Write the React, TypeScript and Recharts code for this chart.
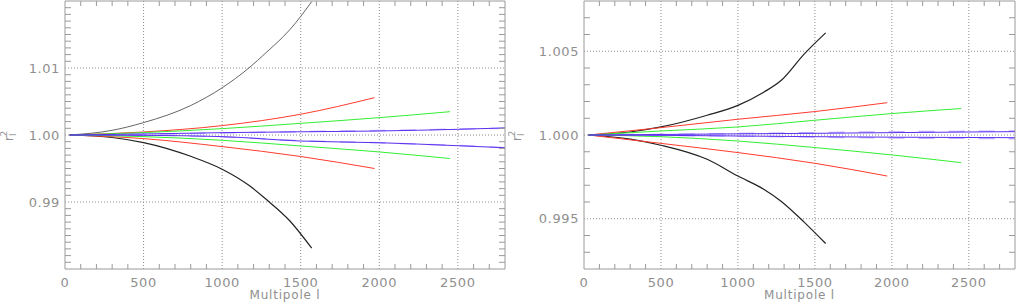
import React from 'react';
import { LineChart, Line, XAxis, YAxis, ReferenceLine } from 'recharts';

// multipole grids for each family of curves
const lBlack = [30, 300, 500, 800, 1000, 1170, 1280, 1430, 1570];
const lRed = [30, 500, 1000, 1500, 1970];
const lGreen = [30, 500, 1000, 1500, 2000, 2450];
const lBlue = [30, 500, 1000, 1500, 2000, 2500, 2800];

// left panel values
const leftBlackUp = [1.0, 1.0007, 1.00185, 1.0044, 1.00705, 1.01, 1.0123, 1.0157, 1.0199];
const leftBlackDown = [1.0, 0.99963, 0.99887, 0.99682, 0.9949, 0.9925, 0.9904, 0.9872, 0.9831];
const leftRedUp = [1.0, 1.00045, 1.0014, 1.0031, 1.00557];
const leftRedDown = [1.0, 0.99946, 0.99827, 0.99679, 0.995];
const leftGreenUp = [1.0, 1.00036, 1.00095, 1.00174, 1.00259, 1.00348];
const leftGreenDown = [1.0, 0.99976, 0.99921, 0.99836, 0.99747, 0.99649];
const leftBlueUp = [1.0, 1.00015, 1.00035, 1.00048, 1.0006, 1.00085, 1.00105];
const leftBlueDown = [1.0, 0.99995, 0.99976, 0.9991, 0.99885, 0.9984, 0.9981];
const leftLilacUp = [1.0, 1.00012, 1.0003, 1.0005, 1.00066, 1.00088, 1.00102];
const leftLilacDown = [1.0, 0.99997, 0.99972, 0.99915, 0.99883, 0.99843, 0.99808];

// right panel values
const rightBlackUp = [1.0, 1.00018, 1.00048, 1.00118, 1.00177, 1.00257, 1.00325, 1.00483, 1.0061];
const rightBlackDown = [1.0, 0.99975, 0.99939, 0.99855, 0.99755, 0.99675, 0.99605, 0.9948, 0.99352];
const rightRedUp = [1.0, 1.00044, 1.00094, 1.0014, 1.00193];
const rightRedDown = [1.0, 0.9995, 0.99895, 0.99831, 0.99755];
const rightGreenUp = [1.0, 1.00024, 1.00048, 1.00088, 1.00128, 1.00158];
const rightGreenDown = [1.0, 0.9999, 0.99964, 0.99925, 0.99881, 0.99835];
const rightBlueUp = [1.0, 1.00003, 1.00007, 1.0001, 1.00014, 1.00018, 1.0002];
const rightBlueDown = [1.0, 0.99998, 0.99994, 0.9999, 0.99987, 0.99985, 0.99984];
const rightLilacUp = [1.0, 1.00004, 1.00009, 1.00014, 1.00019, 1.00022, 1.00024];
const rightLilacDown = [1.0, 0.99998, 0.99993, 0.99988, 0.99982, 0.9998, 0.99978];

// ticks
const xLabelValues = [0, 500, 1000, 1500, 2000, 2500];
const xLabels = ['0', '500', '1000', '1500', '2000', '2500'];
const leftYMajor = [0.99, 1.0, 1.01];
const leftYLabels = ['0.99', '1.00', '1.01'];
const rightYMajor = [0.995, 1.0, 1.005];
const rightYLabels = ['0.995', '1.000', '1.005'];

const AXIS = '#9a9a9a';
const TEXT = '#8f8f8f';
const GRID = '#8c8c8c';
const FONT = "'DejaVu Sans', sans-serif";

const allX = Array.from({ length: 28 }, (_, i) => i * 100);
const stepTicks = (lo: number, hi: number) =>
  Array.from({ length: Math.round((hi - lo) / 0.001) + 1 }, (_, i) => +(lo + i * 0.001).toFixed(4));

const near = (a: number, b: number) => Math.abs(a - b) < 1e-7;
const pts = (ls: number[], vs: number[]) => ls.map((l, i) => ({ l, v: vs[i] }));

interface Series { data: { l: number; v: number }[]; color: string; width: number; dash?: string }

interface PanelProps {
  left: number;
  margin: { top: number; right: number; bottom: number; left: number };
  yDomain: [number, number];
  yMajor: number[];
  yLabels: string[];
  series: Series[];
  rLabelX: number;
}

const Panel = ({ left, margin, yDomain, yMajor, yLabels, series, rLabelX }: PanelProps) => {
  const W = 508;
  const H = 308;
  const yTicks = stepTicks(yDomain[0], yDomain[1]);
  // axes take 1px each, so the plot box is the margin plus one
  const plotMid = margin.left + 1 + (W - margin.left - margin.right - 2) / 2;

  const BottomTick = (p: any) => {
    const idx = xLabelValues.findIndex(t => near(t, p.payload.value));
    return (
      <g>
        {idx < 0 && <line x1={p.x} x2={p.x} y1={p.y} y2={p.y - 5} stroke={AXIS} />}
        {idx >= 0 && (
          <text x={p.x} y={p.y + 17.5} textAnchor="middle" fill={TEXT} fontSize={13} fontFamily={FONT} letterSpacing={0.6}>
            {xLabels[idx]}
          </text>
        )}
      </g>
    );
  };
  const TopTick = (p: any) => {
    const idx = xLabelValues.findIndex(t => near(t, p.payload.value));
    return idx < 0 ? <line x1={p.x} x2={p.x} y1={p.y} y2={p.y + 5} stroke={AXIS} /> : <g />;
  };
  const LeftTick = (p: any) => {
    const idx = yMajor.findIndex(t => near(t, p.payload.value));
    const edge = near(p.payload.value, yDomain[0]) || near(p.payload.value, yDomain[1]);
    return (
      <g>
        {idx < 0 && !edge && <line x1={p.x} x2={p.x + 6} y1={p.y} y2={p.y} stroke={AXIS} />}
        {idx >= 0 && (
          <text x={p.x - 5} y={p.y + 4.5} textAnchor="end" fill={TEXT} fontSize={13} fontFamily={FONT} letterSpacing={0.6}>
            {yLabels[idx]}
          </text>
        )}
      </g>
    );
  };
  const RightTick = (p: any) => {
    const idx = yMajor.findIndex(t => near(t, p.payload.value));
    const edge = near(p.payload.value, yDomain[0]) || near(p.payload.value, yDomain[1]);
    return idx < 0 && !edge ? <line x1={p.x} x2={p.x - 6} y1={p.y} y2={p.y} stroke={AXIS} /> : <g />;
  };

  return (
    <div style={{ position: 'absolute', left, top: 0, width: W, height: H }}>
      <LineChart width={W} height={H} margin={margin}>
        <XAxis xAxisId="b" dataKey="l" type="number" domain={[0, 2800]} ticks={allX} interval={0}
          height={1} tickSize={0} tickMargin={0} tick={BottomTick} stroke={AXIS} allowDataOverflow />
        <XAxis xAxisId="t" orientation="top" dataKey="l" type="number" domain={[0, 2800]} ticks={allX} interval={0}
          height={1} tickSize={0} tickMargin={0} tick={TopTick} stroke={AXIS} allowDataOverflow />
        <YAxis yAxisId="l" type="number" domain={yDomain} ticks={yTicks} interval={0}
          width={1} tickSize={0} tickMargin={0} tick={LeftTick} stroke={AXIS} allowDataOverflow />
        <YAxis yAxisId="r" orientation="right" type="number" domain={yDomain} ticks={yTicks} interval={0}
          width={1} tickSize={0} tickMargin={0} tick={RightTick} stroke={AXIS} allowDataOverflow />
        {xLabelValues.slice(1).map(v => (
          <ReferenceLine key={'gx' + v} x={v} xAxisId="b" yAxisId="l" stroke={GRID} strokeDasharray="1 2" />
        ))}
        {yMajor.map(v => (
          <ReferenceLine key={'gy' + v} y={v} xAxisId="b" yAxisId="l" stroke={GRID} strokeDasharray="1 2" />
        ))}
        {series.map((s, i) => (
          <Line key={i} data={s.data} dataKey="v" xAxisId="b" yAxisId="l" type="monotone"
            stroke={s.color} strokeWidth={s.width} strokeDasharray={s.dash}
            dot={false} activeDot={false} isAnimationActive={false} />
        ))}
      </LineChart>
      <svg width={W} height={H} style={{ position: 'absolute', left: 0, top: 0, pointerEvents: 'none' }}>
        <text x={plotMid} y={299} textAnchor="middle" fill={TEXT} fontSize={12} fontFamily={FONT} letterSpacing={0.8}>
          Multipole l
        </text>
        <text transform={`translate(${rLabelX},136) rotate(-90)`} textAnchor="middle" fill={TEXT} fontSize={13} fontFamily={FONT}>
          r<tspan dy={3} fontSize={9}>l</tspan><tspan dy={-9} dx={-3} fontSize={9}>2</tspan>
        </text>
      </svg>
    </div>
  );
};

const leftSeries: Series[] = [
  { data: pts(lBlue, leftLilacUp), color: '#c2b4ff', width: 1.5, dash: '16 14' },
  { data: pts(lBlue, leftLilacDown), color: '#c2b4ff', width: 1.5, dash: '16 14' },
  { data: pts(lBlack, leftBlackUp), color: '#666666', width: 1 },
  { data: pts(lBlack, leftBlackDown), color: '#222222', width: 1.2 },
  { data: pts(lRed, leftRedUp), color: '#ff3b2f', width: 1 },
  { data: pts(lRed, leftRedDown), color: '#ff3b2f', width: 1 },
  { data: pts(lGreen, leftGreenUp), color: '#33ee33', width: 1 },
  { data: pts(lGreen, leftGreenDown), color: '#33ee33', width: 1 },
  { data: pts(lBlue, leftBlueUp), color: '#5a2ff0', width: 1 },
  { data: pts(lBlue, leftBlueDown), color: '#5a2ff0', width: 1 },
];

const rightSeries: Series[] = [
  { data: pts(lBlue, rightLilacUp), color: '#c2b4ff', width: 1.5, dash: '16 14' },
  { data: pts(lBlue, rightLilacDown), color: '#c2b4ff', width: 1.5, dash: '16 14' },
  { data: pts(lBlack, rightBlackUp), color: '#222222', width: 1.2 },
  { data: pts(lBlack, rightBlackDown), color: '#222222', width: 1.2 },
  { data: pts(lRed, rightRedUp), color: '#ff3b2f', width: 1 },
  { data: pts(lRed, rightRedDown), color: '#ff3b2f', width: 1 },
  { data: pts(lGreen, rightGreenUp), color: '#33ee33', width: 1 },
  { data: pts(lGreen, rightGreenDown), color: '#33ee33', width: 1 },
  { data: pts(lBlue, rightBlueUp), color: '#5a2ff0', width: 1 },
  { data: pts(lBlue, rightBlueDown), color: '#5a2ff0', width: 1 },
];

export default function App() {
  return (
    <div style={{ position: 'absolute', left: 0, top: 0, width: 1016, height: 308, background: '#fff' }}>
      <Panel left={0} margin={{ top: 0, right: 2, bottom: 38, left: 64 }} yDomain={[0.98, 1.02]}
        yMajor={leftYMajor} yLabels={leftYLabels} series={leftSeries} rLabelX={13} />
      <Panel left={508} margin={{ top: 0, right: 0, bottom: 38, left: 75 }} yDomain={[0.992, 1.008]}
        yMajor={rightYMajor} yLabels={rightYLabels} series={rightSeries} rLabelX={13} />
    </div>
  );
}
